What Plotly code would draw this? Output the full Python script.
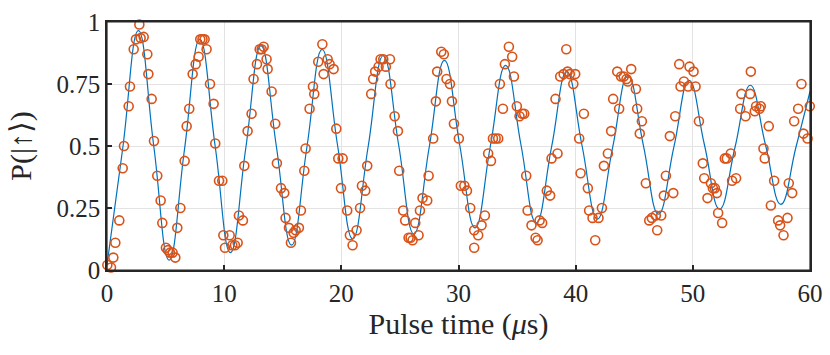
import plotly.graph_objects as go

# measured points (pulse time in us, spin-up probability)
t_data = [0.03, 0.34, 0.54, 0.71, 1.05, 1.34, 1.45, 1.85, 1.96, 2.28, 2.47, 2.76, 2.87, 3.13, 3.44, 3.53,
          3.81, 4.01, 4.29, 4.58, 4.72, 5.03, 5.2, 5.38, 5.6, 5.83, 6.0, 6.26, 6.63, 6.8, 7.02, 7.31,
          7.57, 7.82, 7.96, 8.15, 8.33, 8.5, 8.79, 9.1, 9.24, 9.56, 9.84, 9.93, 10.07,
          10.47, 10.69, 10.92, 11.15, 11.26, 11.6, 11.72, 12.0, 12.34, 12.51, 12.8, 13.03, 13.2, 13.37,
          13.62, 13.71, 14.05, 14.36, 14.5, 14.85, 15.13, 15.24, 15.53, 15.7, 15.93, 16.1, 16.38, 16.55,
          16.84, 16.95, 17.29, 17.58, 17.69, 18.03, 18.38, 18.49, 18.83, 19.0, 19.34, 19.57, 19.74, 19.97,
          20.11, 20.5, 20.73, 20.96, 21.3, 21.6, 21.76, 22.04, 22.21, 22.55, 22.72, 22.89, 23.18, 23.35,
          23.58, 23.8, 24.15, 24.2, 24.55, 24.83, 24.94, 25.28, 25.45, 25.74, 25.91, 26.08, 26.31, 26.59,
          26.71, 26.93, 27.33, 27.45, 27.84, 28.07, 28.18, 28.53, 28.75, 28.98, 29.27, 29.44, 29.61,
          30.03, 30.2, 30.5, 30.72, 31.0, 31.34, 31.34, 31.68, 31.97, 32.25, 32.53, 32.77, 32.94, 33.17,
          33.39, 33.53, 33.79, 33.96, 34.3, 34.58, 34.73, 34.98, 35.21, 35.44, 35.61, 35.78, 35.9, 36.23,
          36.58, 36.75, 36.92, 37.14, 37.54, 37.82, 37.94, 38.28, 38.45, 38.68, 38.97, 39.2, 39.31,
          39.5, 39.8, 39.96, 40.3, 40.42, 40.7, 41.04, 41.15, 41.44, 41.67, 41.95, 42.24, 42.41, 42.75,
          43.03, 43.2, 43.55, 43.71, 43.88, 44.1, 44.34, 44.45, 44.74, 45.14, 45.25, 45.47, 45.65, 45.99,
          46.28, 46.5, 46.84, 46.96, 47.3, 47.53, 47.7, 48.04, 48.33, 48.5, 48.84, 48.95, 49.24,
          49.6, 49.72, 50.06, 50.23, 50.52, 50.85, 50.97, 51.25, 51.54, 51.71, 51.88, 52.05, 52.16, 52.5,
          52.73, 52.9, 53.24, 53.35, 53.69, 54.04, 54.15, 54.5, 54.89, 54.95, 55.29, 55.4, 55.69, 55.8,
          56.03, 56.14, 56.48, 56.66, 56.94, 57.28, 57.45, 57.74, 58.08, 58.19, 58.48, 58.65, 58.99,
          59.27, 59.44, 59.79, 59.98]
p_data = [0.02, 0.01, 0.05, 0.11, 0.20, 0.41, 0.50, 0.66, 0.74, 0.89, 0.93, 0.99, 0.935, 0.94, 0.87, 0.79,
          0.69, 0.52, 0.38, 0.28, 0.19, 0.09, 0.08, 0.07, 0.07, 0.05, 0.17, 0.25, 0.44, 0.58, 0.65, 0.79,
          0.83, 0.86, 0.93, 0.93, 0.93, 0.89, 0.75, 0.67, 0.51, 0.36, 0.36, 0.14, 0.09,
          0.14, 0.10, 0.10, 0.11, 0.22, 0.20, 0.42, 0.56, 0.63, 0.77, 0.83, 0.89, 0.89, 0.90,
          0.85, 0.81, 0.72, 0.59, 0.43, 0.33, 0.31, 0.21, 0.17, 0.11, 0.15, 0.16, 0.17, 0.24,
          0.40, 0.49, 0.65, 0.74, 0.71, 0.84, 0.91, 0.79, 0.85, 0.83, 0.81, 0.57, 0.45, 0.33,
          0.45, 0.24, 0.14, 0.10, 0.16, 0.25, 0.34, 0.32, 0.42, 0.71, 0.77, 0.80, 0.82, 0.85,
          0.85, 0.82, 0.85, 0.75, 0.62, 0.56, 0.40, 0.24, 0.20, 0.13, 0.13, 0.12, 0.19, 0.14,
          0.24, 0.29, 0.28, 0.38, 0.53, 0.68, 0.80, 0.88, 0.87, 0.77, 0.75, 0.68, 0.59,
          0.53, 0.34, 0.34, 0.32, 0.25, 0.16, 0.09, 0.14, 0.18, 0.22, 0.47, 0.44, 0.53, 0.53,
          0.53, 0.75, 0.65, 0.83, 0.90, 0.86, 0.78, 0.66, 0.62, 0.63, 0.63, 0.38, 0.24, 0.18,
          0.13, 0.12, 0.20, 0.19, 0.32, 0.30, 0.45, 0.69, 0.47, 0.78, 0.79, 0.89, 0.80,
          0.79, 0.75, 0.79, 0.53, 0.39, 0.63, 0.33, 0.24, 0.21, 0.12, 0.21, 0.25, 0.42, 0.47,
          0.56, 0.69, 0.80, 0.65, 0.78, 0.78, 0.77, 0.76, 0.81, 0.73, 0.65, 0.55, 0.60, 0.35,
          0.20, 0.21, 0.22, 0.16, 0.22, 0.30, 0.38, 0.54, 0.31, 0.62, 0.83, 0.74, 0.76,
          0.74, 0.82, 0.80, 0.74, 0.60, 0.43, 0.37, 0.29, 0.35, 0.33, 0.33, 0.31, 0.23, 0.19,
          0.45, 0.45, 0.47, 0.36, 0.37, 0.65, 0.71, 0.62, 0.71, 0.80, 0.64, 0.66, 0.65, 0.66,
          0.49, 0.45, 0.58, 0.26, 0.36, 0.20, 0.18, 0.14, 0.21, 0.35, 0.31, 0.60, 0.65,
          0.75, 0.55, 0.53, 0.66]

# damped-sine fit, read at its extrema and half-way crossings
fit_t = [0.0, 1.34, 2.68, 3.99, 5.30, 6.61, 7.92, 9.23, 10.53, 11.84, 13.14, 14.45, 15.75, 17.06,
         18.36, 19.67, 20.97, 22.28, 23.58, 24.89, 26.19, 27.50, 28.80, 30.10, 31.41, 32.72, 34.02,
         35.33, 36.63, 37.94, 39.24, 40.55, 41.85, 43.16, 44.46, 45.77, 47.07, 48.38, 49.68, 50.99,
         52.29, 53.60, 54.90, 56.20, 57.51, 58.80, 60.0]
fit_p = [0.02, 0.49, 0.965, 0.50, 0.04, 0.485, 0.93, 0.50, 0.07, 0.49, 0.905, 0.50, 0.10, 0.495,
         0.89, 0.505, 0.125, 0.495, 0.865, 0.505, 0.145, 0.495, 0.845, 0.505, 0.17, 0.50, 0.825,
         0.505, 0.19, 0.495, 0.80, 0.50, 0.205, 0.495, 0.785, 0.505, 0.225, 0.495, 0.765, 0.505,
         0.245, 0.495, 0.745, 0.505, 0.265, 0.495, 0.72]

x_ticks = [0, 10, 20, 30, 40, 50, 60]
y_ticks = [0, 0.25, 0.5, 0.75, 1]
y_labels = ['0', '0.25', '0.5', '0.75', '1']

fig = go.Figure()
fig.add_trace(go.Scatter(x=fit_t, y=fit_p, mode='lines',
                         line=dict(color='#0072BD', width=1.2, shape='spline', smoothing=1.3)))
fig.add_trace(go.Scatter(x=t_data, y=p_data, mode='markers', cliponaxis=False,
                         marker=dict(symbol='circle-open', size=9, color='#D95319',
                                     line=dict(width=1.6, color='#D95319'))))

axis_style = dict(showgrid=True, gridcolor='#e3e3e3', gridwidth=1, zeroline=False,
                  showline=True, linecolor='#262626', linewidth=1.5, mirror=True,
                  ticks='inside', ticklen=5, tickcolor='#262626', tickwidth=1.5)

fig.update_xaxes(range=[0, 60], tickvals=x_ticks,
                 title=dict(text='Pulse time (<i>μ</i>s)', standoff=4), **axis_style)
fig.update_yaxes(range=[0, 1], tickvals=y_ticks, ticktext=y_labels,
                 title=dict(text='P(|↑⟩)', standoff=16), **axis_style)

# plot-area frame
fig.add_shape(type='rect', xref='paper', yref='paper', x0=0, x1=1, y0=0, y1=1,
              line=dict(color='#262626', width=1.2), layer='above')

fig.update_layout(width=830, height=355,
                  margin=dict(l=107, r=20, t=22, b=85, autoexpand=False),
                  plot_bgcolor='white', paper_bgcolor='white', showlegend=False,
                  font=dict(family='Liberation Serif, DejaVu Serif, serif', size=25, color='#262626'))

# page body has a default margin; remove it so the figure sits at the window corner
fig.write_html('out.html', config={'displayModeBar': False},
               post_script="document.body.style.margin='0';")
